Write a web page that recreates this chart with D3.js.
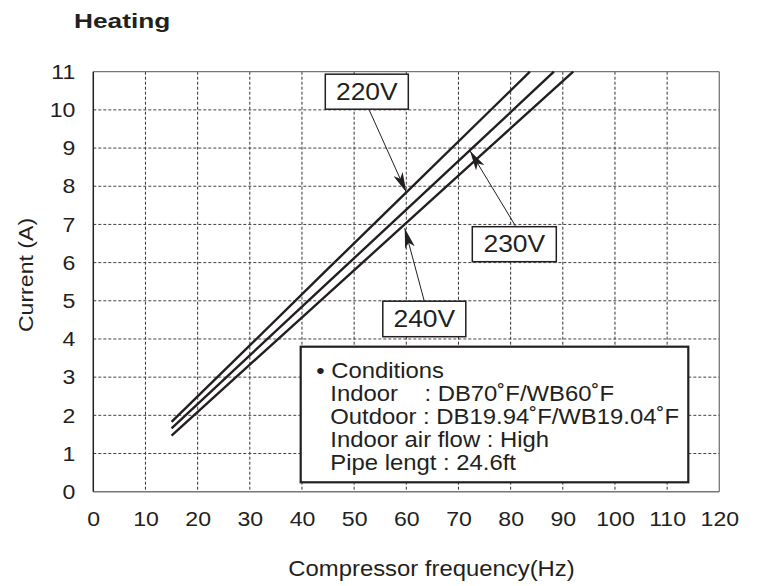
<!DOCTYPE html>
<html>
<head>
<meta charset="utf-8">
<script src="https://cdn.jsdelivr.net/npm/d3@7"></script>
<style>
  body { margin: 0; background: #fff; }
  svg text { font-family: "Liberation Sans", Arial, sans-serif; fill: #231f20; }
</style>
</head>
<body>
<div id="chart"></div>
<script>
// data
const freq220 = [15, 30, 45, 60, 75, 83.7];
const amps220 = [1.83, 3.83, 5.84, 7.84, 9.84, 11];
const freq230 = [15, 30, 45, 60, 75, 88.3];
const amps230 = [1.66, 3.57, 5.48, 7.39, 9.30, 11];
const freq240 = [15, 30, 45, 60, 75, 92];
const amps240 = [1.47, 3.33, 5.18, 7.04, 8.90, 11];

const xTicks = [0, 10, 20, 30, 40, 50, 60, 70, 80, 90, 100, 110, 120];
const yTicks = [0, 1, 2, 3, 4, 5, 6, 7, 8, 9, 10, 11];

const conditions = [
    "\u2022 Conditions",
    "Indoor    : DB70\u02DAF/WB60\u02DAF",
    "Outdoor : DB19.94\u02DAF/WB19.04\u02DAF",
    "Indoor air flow : High",
    "Pipe lengt : 24.6ft"
];

const size = { width: 760, height: 586 };
const margin = { left: 93.3, right: 40.7, top: 71.7, bottom: 94.3 };
const w = size.width - margin.left - margin.right;
const h = size.height - margin.top - margin.bottom;

// the original lettering is a bit wider than Arial
function putText(sel, x, y, sx, extra) {
    return sel.attr("transform", `translate(${x},${y})${extra || ""} scale(${sx},1)`);
}

const svg = d3.select("#chart")
    .append("svg")
        .attr("width", size.width)
        .attr("height", size.height);

svg.append("defs").append("marker")
        .attr("id", "head")
        .attr("viewBox", "0 0 20 10")
        .attr("refX", 20).attr("refY", 5)
        .attr("markerWidth", 20).attr("markerHeight", 10)
        .attr("markerUnits", "userSpaceOnUse")
        .attr("orient", "auto")
    .append("path")
        .attr("d", "M0,0 L20,5 L0,10 L5,5 Z")
        .attr("fill", "#231f20");

const g = svg.append("g").attr("transform", `translate(${margin.left},${margin.top})`);

const x = d3.scaleLinear().domain([0, 120]).range([0, w]);
const y = d3.scaleLinear().domain([0, 11]).range([h, 0]);

// grid
g.append("g")
    .selectAll("line")
    .data(xTicks.slice(1, -1))
    .join("line")
        .attr("x1", d => x(d)).attr("x2", d => x(d))
        .attr("y1", 0).attr("y2", h)
        .attr("stroke", "#333").attr("stroke-width", 1)
        .attr("stroke-dasharray", "3,2");

g.append("g")
    .selectAll("line")
    .data(yTicks.slice(1, -1))
    .join("line")
        .attr("x1", 0).attr("x2", w)
        .attr("y1", d => y(d)).attr("y2", d => y(d))
        .attr("stroke", "#444").attr("stroke-width", 1)
        .attr("stroke-dasharray", "3,2");

// frame
g.append("line").attr("x1", 0).attr("x2", w).attr("y1", 0).attr("y2", 0)
    .attr("stroke", "#777").attr("stroke-width", 1.3);
g.append("line").attr("x1", w).attr("x2", w).attr("y1", 0).attr("y2", h)
    .attr("stroke", "#777").attr("stroke-width", 1.3);
g.append("line").attr("x1", 0).attr("x2", w).attr("y1", h).attr("y2", h)
    .attr("stroke", "#777").attr("stroke-width", 1.6);
g.append("line").attr("x1", 0).attr("x2", 0).attr("y1", 0).attr("y2", h)
    .attr("stroke", "#231f20").attr("stroke-width", 1.5);

// axes (labels only)
const tickSx = 1.1;
const xAxis = g.append("g")
    .attr("transform", `translate(0,${h})`)
    .call(d3.axisBottom(x).tickValues(xTicks).tickSize(0).tickPadding(19));
const yAxis = g.append("g")
    .call(d3.axisLeft(y).tickValues(yTicks).tickSize(0).tickPadding(18 / tickSx));
[xAxis, yAxis].forEach(a => {
    a.select(".domain").remove();
    a.selectAll("text")
        .attr("font-size", 21)
        .attr("font-family", "Liberation Sans, Arial, sans-serif")
        .attr("fill", "#231f20")
        .attr("transform", `scale(${tickSx},1)`);
});

// series
const series = [
    { name: "220V", f: freq220, a: amps220 },
    { name: "230V", f: freq230, a: amps230 },
    { name: "240V", f: freq240, a: amps240 }
];
const line = d3.line().x(d => x(d[0])).y(d => y(d[1]));
g.selectAll(".curve")
    .data(series)
    .join("path")
        .attr("class", "curve")
        .attr("d", s => line(d3.zip(s.f, s.a)))
        .attr("fill", "none")
        .attr("stroke", "#231f20")
        .attr("stroke-width", 2.4);

// callouts: box in pixels relative to plot, arrow tip on the series
const callouts = [
    { label: "220V", box: [232, 2.5, 83, 35], from: [276, 38.5], tip: [60, 7.84] },
    { label: "230V", box: [379, 155, 84, 35], from: [422, 154], tip: [72.2, 8.93] },
    { label: "240V", box: [289.5, 229.5, 83, 35.5], from: [331, 229.5], tip: [59.7, 6.9] }
];
callouts.forEach(c => {
    g.append("rect")
        .attr("x", c.box[0]).attr("y", c.box[1])
        .attr("width", c.box[2]).attr("height", c.box[3])
        .attr("fill", "#fff").attr("stroke", "#231f20").attr("stroke-width", 1.5);
    putText(g.append("text"), c.box[0] + c.box[2] / 2, c.box[1] + c.box[3] / 2 + 8.2, 1.15)
        .attr("text-anchor", "middle")
        .attr("font-size", 23)
        .text(c.label);
    g.append("line")
        .attr("x1", c.from[0]).attr("y1", c.from[1])
        .attr("x2", x(c.tip[0])).attr("y2", y(c.tip[1]))
        .attr("stroke", "#231f20").attr("stroke-width", 1)
        .attr("marker-end", "url(#head)");
});

// conditions box
const bx = 207.4, by = 275, bw = 387.6, bh = 135.6;
g.append("rect")
    .attr("x", bx).attr("y", by).attr("width", bw).attr("height", bh)
    .attr("fill", "#fff").attr("stroke", "#231f20").attr("stroke-width", 2.2);
conditions.forEach((d, i) => {
    putText(g.append("text"), i === 0 ? 223 : 237, 306.6 + i * 22.8, 1.085)
        .attr("font-size", 22)
        .style("white-space", "pre")
        .text(d);
});

// titles
putText(svg.append("text"), 74, 27.5, 1.25)
    .attr("font-size", 21).attr("font-weight", "bold")
    .text("Heating");

putText(svg.append("text"), 431.5, 576, 1.11)
    .attr("text-anchor", "middle")
    .attr("font-size", 21.5)
    .text("Compressor frequency(Hz)");

putText(svg.append("text"), 33.3, 275, 1.1, " rotate(-90)")
    .attr("text-anchor", "middle")
    .attr("font-size", 21)
    .text("Current (A)");
</script>
</body>
</html>
